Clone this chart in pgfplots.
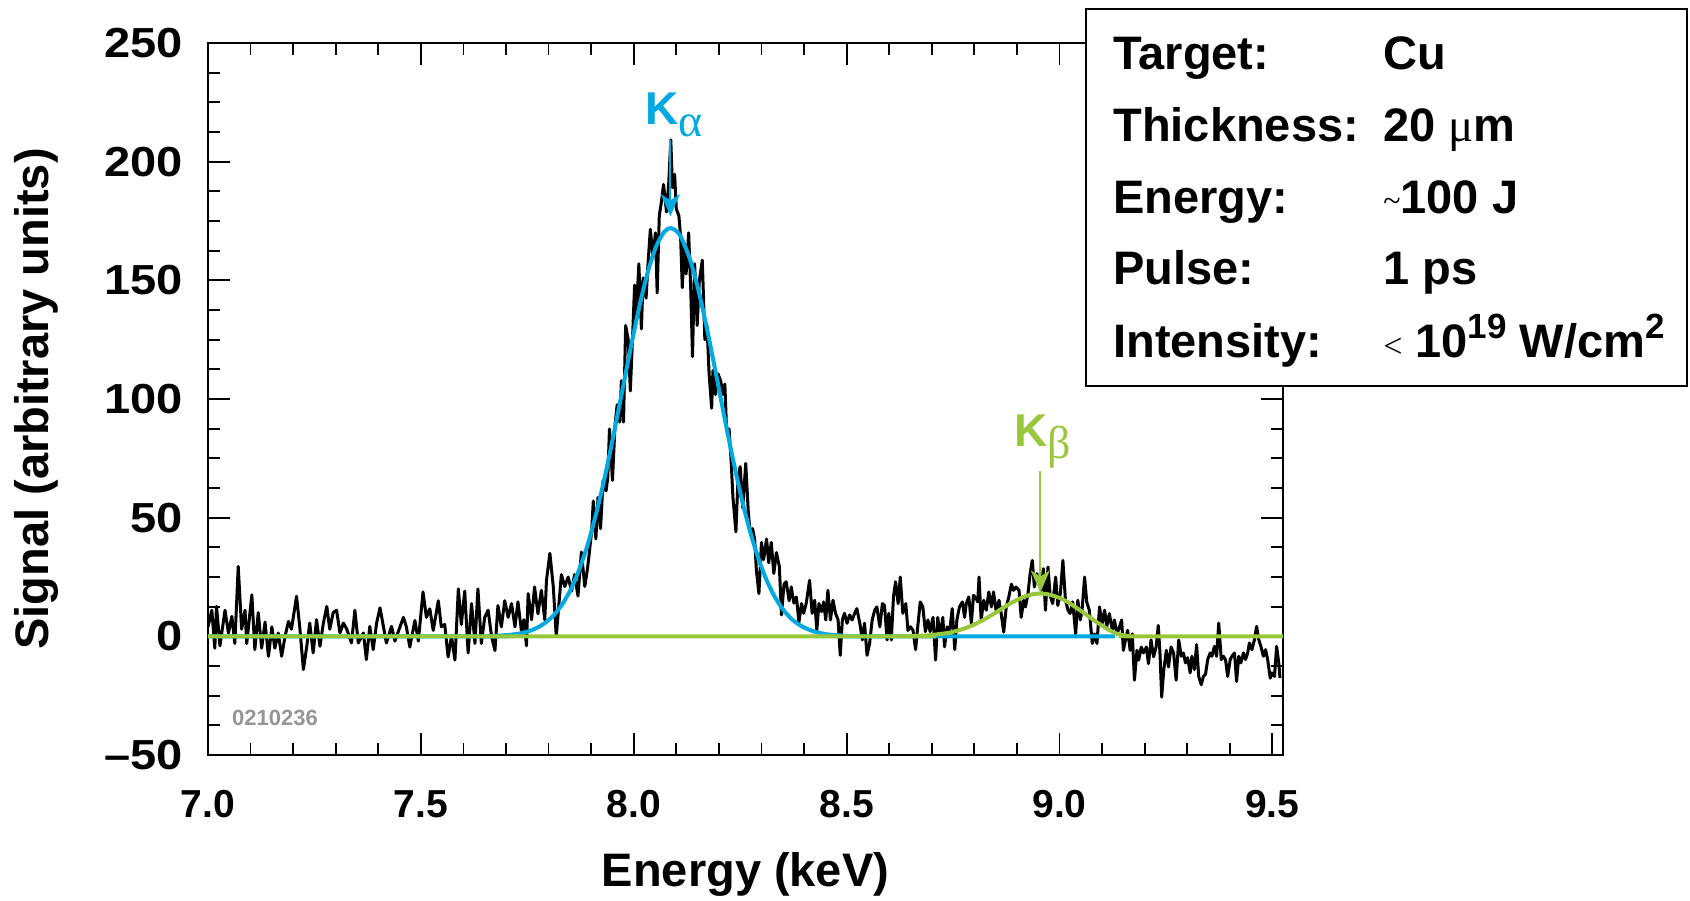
\documentclass[border=0pt]{standalone}
\usepackage{fontspec}
\setmainfont{Liberation Sans}
\newfontfamily\seriffont{Liberation Serif}
\usepackage{graphicx}
\usepackage{pgfplots}
\pgfplotsset{compat=1.18}
\usetikzlibrary{arrows.meta}
\definecolor{kblue}{RGB}{0,169,224}
\definecolor{kgreen}{RGB}{153,199,60}
\definecolor{idgray}{RGB}{150,150,150}
\newcommand{\wide}[1]{\scalebox{1.12}[1]{#1}}

\begin{document}
\begin{tikzpicture}
\useasboundingbox (-104pt,-72.5pt) rectangle (741pt,377.5pt);
\begin{axis}[
  at={(0,0)}, anchor=south west,
  scale only axis, width=537.5pt, height=356pt,
  xmin=7, xmax=9.525, ymin=-50, ymax=250,
  xtick={7,7.5,8,8.5,9,9.5},
  xticklabels={7.0,7.5,8.0,8.5,9.0,9.5},
  ytick={-50,0,50,100,150,200,250},
  yticklabels={\wide{–50},\wide{0},\wide{50},\wide{100},\wide{150},\wide{200},\wide{250}},
  minor x tick num=4, minor y tick num=3,
  tick align=inside, tick pos=both,
  major tick length=11pt, minor tick length=6pt,
  tick style={black, line width=0.9pt},
  axis line style={line width=1pt},
  xticklabel style={font=\fontsize{19.5}{20}\selectfont\bfseries, inner sep=0pt, anchor=north, yshift=-17.5pt},
  yticklabel style={font=\fontsize{21}{22}\selectfont\bfseries, inner sep=0pt, anchor=east, xshift=-12.5pt},
  xlabel={Energy (keV)}, ylabel={Signal (arbitrary units)},
  label style={font=\fontsize{23.5}{25}\selectfont\bfseries},
  xlabel style={at={(axis description cs:0.5,-0.184)}, anchor=base},
  ylabel style={at={(axis description cs:-0.1488,0.5)}, anchor=base},
]
% measured spectrum
\addplot[black, line width=1.5pt, line join=round] coordinates {
(7.000,4) (7.009,11) (7.016,-5) (7.020,12.6) (7.028,-4) (7.040,11) (7.048,1.4) (7.056,8.4) (7.063,-3) (7.071,29.5)
(7.079,3) (7.087,11) (7.091,-3) (7.103,17.5) (7.110,-5.6) (7.118,10) (7.126,-5) (7.134,6) (7.142,-8.4) (7.150,4)
(7.157,-5) (7.165,1.4) (7.173,-8.4) (7.181,0) (7.189,6.3) (7.196,3) (7.208,16.9) (7.216,3) (7.224,-14) (7.232,-4.2)
(7.239,5.6) (7.247,-7) (7.255,7) (7.263,-4.2) (7.271,5.6) (7.279,12.6) (7.286,3) (7.294,10) (7.302,11) (7.310,1.4)
(7.318,5.6) (7.326,3) (7.337,-2.8) (7.345,11) (7.353,-2.8) (7.365,1.4) (7.372,-9.8) (7.380,4.2) (7.388,-5.6) (7.396,5.6)
(7.404,12) (7.412,4.2) (7.419,-2.8) (7.431,4.2) (7.439,-2) (7.447,2)
(7.459,8) (7.466,4) (7.474,-4.5) (7.486,6.7) (7.494,-2) (7.505,18.7) (7.513,8) (7.521,11.6) (7.529,2.5) (7.541,15)
(7.548,4) (7.556,5) (7.564,-8.7) (7.572,0) (7.580,-10) (7.588,20) (7.595,5) (7.603,19) (7.611,-7) (7.619,13.8)
(7.627,-3) (7.634,20) (7.642,-3) (7.650,8) (7.658,11) (7.666,0) (7.674,-6) (7.681,13) (7.689,4) (7.697,15)
(7.705,8) (7.713,13.8) (7.721,4) (7.728,14.5) (7.736,2.5) (7.742,7) (7.748,-4) (7.752,18) (7.760,7) (7.767,20.8)
(7.775,9.5) (7.783,19.4) (7.791,7) (7.795,23.6) (7.803,35) (7.811,21) (7.818,0) (7.830,26) (7.838,21) (7.846,25)
(7.854,19) (7.861,26) (7.869,17) (7.877,35.5) (7.885,21) (7.891,28)
(7.893,31) (7.901,44) (7.905,57) (7.911,41) (7.916,58.5) (7.922,45.4) (7.928,65.7) (7.935,61.3) (7.939,67) (7.943,87.4)
(7.950,65.7) (7.956,88.9) (7.961,97.6) (7.967,90.3) (7.971,107.7) (7.976,90.3) (7.981,131) (7.987,125) (7.992,103.4) (7.997,125)
(8.002,148) (8.006,135) (8.012,157) (8.018,129.5) (8.022,151) (8.029,142.5) (8.033,155.6) (8.039,171.5) (8.045,160) (8.051,170)
(8.055,144.7) (8.060,177.3) (8.065,183) (8.070,190.4) (8.077,178.8) (8.082,190.4) (8.087,209.2) (8.091,189) (8.096,194.7) (8.100,180)
(8.106,177.3) (8.110,168.6) (8.114,146.9) (8.119,165.7) (8.123,152.7) (8.129,170) (8.134,145.4) (8.138,117.9) (8.143,157) (8.149,131)
(8.154,149.8) (8.161,158.5) (8.167,125) (8.172,131) (8.177,110.6) (8.183,96.1) (8.186,112) (8.192,101.9) (8.198,110.6) (8.204,107.7)
(8.210,101.9) (8.214,106.3) (8.218,87.4) (8.224,87.4) (8.229,72.9) (8.233,58.5) (8.240,44) (8.245,67) (8.250,71.5) (8.256,54.1)
(8.263,72.9) (8.269,52.6) (8.273,44) (8.279,45.4) (8.284,41) (8.288,28) (8.294,18) (8.300,39.6) (8.305,32.3) (8.312,41)
(8.317,31) (8.323,39.6) (8.329,26.5) (8.335,35.3) (8.342,29.4) (8.347,9) (8.353,22) (8.358,23)
(8.365,15) (8.370,20.8) (8.376,14) (8.382,16.6) (8.388,6) (8.394,13.8) (8.399,9.7) (8.405,13.8) (8.413,23.6) (8.419,9.7)
(8.425,15.2) (8.430,2.5) (8.435,13.8) (8.441,10.4) (8.446,14.5) (8.451,6.9) (8.456,19.4) (8.462,6.9) (8.468,15.2) (8.474,9.7)
(8.480,6.9) (8.485,-8) (8.490,6.9) (8.495,9.7) (8.501,5.5) (8.507,9) (8.513,6.9) (8.519,9.7) (8.524,11.7) (8.531,5.5)
(8.537,-1.5) (8.542,5.5) (8.548,-8) (8.554,-3) (8.560,6.9) (8.566,11) (8.571,12.4) (8.578,4) (8.584,13.8) (8.589,13)
(8.595,-1.5) (8.599,9.7) (8.605,-1.5) (8.610,16.6) (8.615,23) (8.621,13.8) (8.626,25) (8.632,9.7) (8.639,13.8) (8.644,2.5)
(8.650,4) (8.656,2.5) (8.662,-5.6) (8.667,4) (8.673,14.5) (8.679,12.4) (8.685,2) (8.691,6.9) (8.696,2) (8.703,8)
(8.709,-10) (8.714,8) (8.720,0) (8.726,8) (8.730,-4.4) (8.736,4) (8.742,2) (8.748,11.7) (8.754,-5.6) (8.759,6.9)
(8.765,12.4) (8.772,14.5) (8.777,8) (8.781,13.8) (8.787,16.6) (8.793,5.5) (8.798,17.3) (8.804,16) (8.808,14.5)
(8.811,25) (8.816,6.9) (8.822,15.2) (8.828,11) (8.834,18.7) (8.840,12.4) (8.845,18.7) (8.851,11) (8.858,15.2) (8.863,9.6)
(8.869,1.8) (8.875,12.4) (8.881,16.6) (8.887,22) (8.892,19.4) (8.898,20.8) (8.905,19.4) (8.910,8) (8.916,15.2) (8.920,12.4)
(8.926,18) (8.931,26.4) (8.936,32) (8.941,20.8) (8.947,26.4) (8.952,22) (8.957,19.4) (8.962,28.5) (8.967,11) (8.973,29.2)
(8.978,17.3) (8.984,13.8) (8.991,25) (8.996,13) (9.002,18) (9.008,32) (9.014,15.2) (9.020,11) (9.025,9.6) (9.031,14.5)
(9.038,1) (9.043,15.2) (9.049,6.9) (9.053,11) (9.059,25) (9.064,14.5) (9.070,11) (9.077,-3) (9.082,1) (9.088,-3)
(9.094,12.4) (9.100,5.3) (9.106,11) (9.111,4) (9.117,9.6) (9.124,2.5) (9.129,6.9) (9.135,1) (9.141,4) (9.146,6.9)
(9.150,-5.9) (9.155,-1.5) (9.160,2.5) (9.166,-5.9) (9.171,1) (9.176,-18.5) (9.182,-5.9) (9.186,-10) (9.192,-4.5) (9.197,-7)
(9.204,-4.5) (9.209,-11.5) (9.215,-1.5) (9.221,-8.6) (9.227,-4.5) (9.232,4.6) (9.236,-7) (9.240,-25.6) (9.245,-14) (9.251,-5.9)
(9.256,-12.9) (9.262,-4.5) (9.268,-7) (9.274,-18.5) (9.280,-1.5)
(9.286,-8.4) (9.291,-7) (9.296,-11.2) (9.301,-9) (9.307,-15.4) (9.311,-8.4) (9.317,-14) (9.322,-3.5) (9.327,-16.9) (9.333,-20.4)
(9.338,-16.9) (9.343,-16) (9.348,-9.8) (9.354,-7) (9.358,-8.4) (9.364,-4.2) (9.369,-8.4) (9.374,5.6) (9.380,-9.8) (9.385,-8.4)
(9.390,-9.8) (9.395,-16.9) (9.401,-9.8) (9.405,-8.4) (9.411,-7) (9.416,-19) (9.421,-8.4) (9.426,-11.2) (9.432,-7) (9.437,-9.8)
(9.442,-7) (9.446,-2.8) (9.452,-5.6) (9.458,-1.4) (9.463,4.2) (9.468,-1.4) (9.473,-4.2) (9.479,-8.4) (9.484,-5.6) (9.489,-9.8)
(9.495,-17.6) (9.499,-15.4) (9.505,-16.9) (9.510,-4.2) (9.515,-11.2) (9.518,-17.6)
};
% K-alpha fit
\addplot[kblue, line width=2pt, smooth] coordinates {
(7.00,0) (7.672,0) (7.692,0.4) (7.712,0.7) (7.732,1.2) (7.752,2.1) (7.772,3.5) (7.792,5.7) (7.812,8.9) (7.832,13.5)
(7.852,19.8) (7.872,28.2) (7.892,38.8) (7.912,51.9) (7.932,67.1) (7.952,84.3) (7.972,102.5) (7.992,120.8) (8.012,138.0) (8.032,152.8)
(8.052,164.0) (8.072,170.5) (8.087,172) (8.102,170.5) (8.112,167.8) (8.132,158.9) (8.152,145.8) (8.172,129.6) (8.192,111.7) (8.212,93.3)
(8.232,75.5) (8.252,59.2) (8.272,45.0) (8.292,33.2) (8.312,23.7) (8.332,16.4) (8.352,11.0) (8.372,7.1) (8.392,4.5) (8.412,2.8)
(8.432,1.6) (8.452,0.9) (8.472,0.5) (8.492,0.3) (8.512,0) (9.13,0)
};
% K-beta fit
\addplot[kgreen, line width=2pt, smooth] coordinates {
(7.00,0) (8.60,0) (8.64,0.1) (8.68,0.3) (8.70,0.6) (8.72,1.0) (8.74,1.5) (8.76,2.4) (8.78,3.5) (8.80,5.0)
(8.82,6.8) (8.84,8.9) (8.86,11.1) (8.88,13.4) (8.90,15.3) (8.92,16.9) (8.94,17.8) (8.955,18) (8.97,17.8) (8.98,17.4)
(9.00,16.2) (9.02,14.4) (9.04,12.0) (9.06,9.5) (9.08,6.9) (9.10,4.5) (9.12,2.3) (9.14,0.8) (9.16,0.2) (9.18,0) (9.525,0)
};
% peak markers
\draw[kblue, line width=1.1pt, -{Stealth[length=11pt, width=9.5pt, inset=3pt]}] (axis cs:8.086,209) -- (axis cs:8.086,177);
\node[anchor=base west, inner sep=0pt, text=kblue, font=\fontsize{23}{23}\selectfont\bfseries] at (axis cs:8.026,215.8)
  {K\raisebox{-0.26em}{\seriffont\mdseries α}};
\draw[kgreen, line width=1.1pt, -{Stealth[length=11pt, width=9.5pt, inset=3pt]}] (axis cs:8.955,69.5) -- (axis cs:8.955,18.5);
\node[anchor=base west, inner sep=0pt, text=kgreen, font=\fontsize{23}{23}\selectfont\bfseries] at (axis cs:8.894,80)
  {K\raisebox{-0.26em}{\seriffont\mdseries β}};
\node[anchor=base west, inner sep=0pt, text=idgray, font=\fontsize{11}{11}\selectfont\bfseries] at (axis cs:7.056,-37.5) {0210236};
\end{axis}
% shot parameters
\draw[line width=1pt, fill=white] (439pt,184.5pt) rectangle (739.5pt,373pt);
\begin{scope}[every node/.style={anchor=base west, inner sep=0pt, font=\fontsize{23.5}{25}\selectfont\bfseries}]
\node at (452.5pt,342.5pt) {Target:};
\node at (587.5pt,342.5pt) {Cu};
\node at (452.5pt,306.5pt) {Thickness:};
\node at (587.5pt,306.5pt) {20 {\seriffont\mdseries μ}m};
\node at (452.5pt,270.5pt) {Energy:};
\node at (587.5pt,270.5pt) {\raisebox{0.05em}{\seriffont\mdseries\fontsize{16}{16}\selectfont\textasciitilde}100 J};
\node at (452.5pt,235pt) {Pulse:};
\node at (587.5pt,235pt) {1 ps};
\node at (452.5pt,198.5pt) {Intensity:};
\node at (587.5pt,198.5pt) {{\seriffont\mdseries\fontsize{17}{17}\selectfont<} 10\raisebox{0.42em}{\fontsize{17.5}{17.5}\selectfont 19} W/cm\raisebox{0.42em}{\fontsize{17.5}{17.5}\selectfont 2}};
\end{scope}
\end{tikzpicture}
\end{document}
